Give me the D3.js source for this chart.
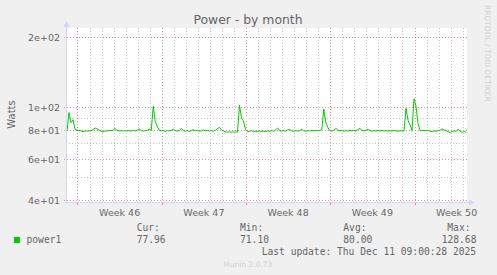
<!DOCTYPE html>
<html><head><meta charset="utf-8">
<script src="https://cdn.jsdelivr.net/npm/d3@7"></script>
<style>body{margin:0;background:#f0f0f0}svg{display:block}</style>
</head><body><svg id="c" width="497" height="275"></svg>
<script>
// ---- data ----
const title = "Power - by month";
const yLabel = "Watts";
const seriesName = "power1";
const startTime = Date.UTC(2025, 10, 9, 3, 4);
const endTime = Date.UTC(2025, 11, 12, 8, 41);
const stepHours = 4;
const values = [
 79,95,86,88.5,80.5,79.8,79.5,79.3,78.6,79.2,
 79.0,79.3,79.2,80.2,81.5,80.8,79.8,79.0,78.3,79.2,
 79.0,79.6,79.4,79.8,81.2,79.5,79.2,79.4,79.0,79.3,
 79.1,79.4,79.0,79.6,79.2,79.8,80.8,79.4,79.1,79.3,
 79.6,80.6,79.8,101,87,83,79.8,79.2,79.5,78.8,
 79.4,79.1,79.6,80.6,79.3,79.0,79.5,81.2,79.4,79.0,
 79.3,78.8,79.4,80.2,79.2,79.5,79.0,79.3,80.0,79.2,
 79.5,79.1,79.4,79.0,79.6,81.0,82.0,80.0,79.2,78.3,
 78.3,78.3,78.3,78.3,78.3,78.4,102,90,87.5,80,
 78.6,78.8,79.4,78.5,78.9,78.6,79.1,78.7,79.0,78.6,
 79.2,78.8,79.3,79.0,80.0,81.5,79.4,79.0,79.3,79.1,
 80.0,80.4,79.2,78.9,79.3,79.0,79.4,80.5,79.3,79.0,
 79.4,79.1,79.5,79.2,79.5,79.3,79.6,80,98.3,86.5,
 82,79.4,79.0,79.5,81.3,79.8,79.2,79.5,79.0,79.4,
 79.1,79.6,79.2,79.5,79.1,80.2,81.3,79.6,79.2,79.5,
 80.5,79.4,79.1,79.3,79.0,79.5,79.2,79.6,79.1,79.4,
 79.0,79.3,79.1,79.5,79.2,79.0,79.3,79.1,79.2,99,
 88,84,79.2,109,101,85,79.6,79.4,79.5,79.3,
 79.4,79.1,78.6,79.2,79.0,79.4,79.8,80.7,79.9,79.5,
 78.6,77.9,78.8,79.2,79.0,80.4,79.0,78.0,78.9,77.96
];
const yMajorTicks = [40, 60, 80, 100, 200];
const yMajorLabels = ["4e+01", "6e+01", "8e+01", "1e+02", "2e+02"];
const yMinorTicks = [50, 70, 90];
const statHeads = ["Cur:", "Min:", "Avg:", "Max:"];
const statValues = ["77.96", "71.10", "80.00", "128.68"];
const lastUpdate = "Last update: Thu Dec 11 09:00:28 2025";
const version = "Munin 2.0.73";
const watermark = "RRDTOOL / TOBI OETIKER";

// ---- layout ----
const X0 = 67, X1 = 467, Y0 = 202, Y1 = 28;
const svg = d3.select("#c");
const fontSans = "'DejaVu Sans', sans-serif";
const fontMono = "'DejaVu Sans Mono', monospace";
const fc = "#666666";

svg.append("rect").attr("width", 497).attr("height", 275).attr("fill", "#f0f0f0");
svg.append("rect").attr("x", X0).attr("y", Y1).attr("width", X1 - X0).attr("height", Y0 - Y1).attr("fill", "#ffffff");

const x = d3.scaleUtc().domain([new Date(startTime), new Date(endTime)]).range([X0, X1]);
const y = d3.scaleLog().domain([39.17, 219.3]).range([Y0, Y1]);

const data = values.map((v, i) => ({ t: new Date(startTime + i * stepHours * 3600e3), v }));

const minorCol = "#c6c6c6";
const majorCol = "#e09696";
const dash = "1,2";
const px = v => Math.round(v) + 0.5;

// vertical grid
const days = d3.utcDay.range(new Date(startTime), new Date(endTime));
const weeks = d3.utcMonday.range(new Date(startTime), new Date(endTime));
const g = svg.append("g");
days.forEach(d => {
  const xx = px(x(d));
  g.append("line").attr("x1", xx).attr("x2", xx).attr("y1", Y1).attr("y2", Y0 + 2)
    .attr("stroke", minorCol).attr("stroke-dasharray", dash);
});
weeks.forEach(d => {
  const xx = px(x(d));
  g.append("line").attr("x1", xx).attr("x2", xx).attr("y1", Y1).attr("y2", Y0)
    .attr("stroke", majorCol).attr("stroke-dasharray", dash);
  g.append("line").attr("x1", xx).attr("x2", xx).attr("y1", Y0).attr("y2", Y0 + 3)
    .attr("stroke", "#e08888");
});
// horizontal grid
yMinorTicks.forEach(v => {
  const yy = px(y(v));
  g.append("line").attr("x1", X0 - 1).attr("x2", X1 + 1).attr("y1", yy).attr("y2", yy)
    .attr("stroke", minorCol).attr("stroke-dasharray", dash);
});
yMajorTicks.forEach((v, i) => {
  const yy = px(y(v));
  g.append("line").attr("x1", X0 - 3).attr("x2", X1 + 2).attr("y1", yy).attr("y2", yy)
    .attr("stroke", majorCol).attr("stroke-dasharray", dash);
  svg.append("text").attr("x", 60).attr("y", yy + 3.3).attr("text-anchor", "end")
    .attr("font-family", fontSans).attr("font-size", "9.5px").attr("fill", fc).text(yMajorLabels[i]);
});

// week labels
weeks.forEach(d => {
  const mid = new Date(+d + 3.5 * 86400e3);
  svg.append("text").attr("x", x(mid)).attr("y", 216).attr("text-anchor", "middle")
    .attr("font-family", fontSans).attr("font-size", "9.5px").attr("fill", fc)
    .text("Week " + d3.utcFormat("%V")(d));
});

// series line
const line = d3.line().x(d => x(d.t)).y(d => y(d.v));
svg.append("path").datum(data).attr("d", line).attr("fill", "none")
  .attr("stroke", "#00cc00").attr("stroke-width", 1);

// axes
const axCol = "#cfd6f8";
svg.append("line").attr("x1", X0 - 0.5).attr("x2", X0 - 0.5).attr("y1", Y0 + 2).attr("y2", Y1 - 4).attr("stroke", axCol);
svg.append("line").attr("x1", X0 - 2).attr("x2", X1 + 4).attr("y1", Y0 + 0.5).attr("y2", Y0 + 0.5).attr("stroke", axCol);
svg.append("path").attr("d", `M${X0 - 3.5},${Y1 - 1} L${X0 - 0.5},${Y1 - 7} L${X0 + 2.5},${Y1 - 1} Z`).attr("fill", axCol);
svg.append("path").attr("d", `M${X1 + 2},${Y0 - 2.5} L${X1 + 8},${Y0 + 0.5} L${X1 + 2},${Y0 + 3.5} Z`).attr("fill", axCol);

// title
svg.append("text").attr("x", 248).attr("y", 24).attr("text-anchor", "middle")
  .attr("font-family", fontSans).attr("font-size", "12.4px").attr("fill", fc).text(title);
// y label
svg.append("text").attr("transform", "translate(15,114.5) rotate(-90)").attr("text-anchor", "middle")
  .attr("font-family", fontSans).attr("font-size", "10px").attr("fill", fc).text(yLabel);
// watermark
svg.append("text").attr("transform", "translate(485,5) rotate(90)")
  .attr("font-family", fontSans).attr("font-size", "7.5px").attr("fill", "#d0d0d0").text(watermark);

// legend
svg.append("rect").attr("x", 14).attr("y", 237).attr("width", 6).attr("height", 6).attr("fill", "#00cc00");
const mono = (tx, xx, yy) => svg.append("text").attr("x", xx).attr("y", yy)
  .attr("font-family", fontMono).attr("font-size", "9.65px").attr("fill", fc).text(tx);
mono(seriesName, 26.5, 243);
const headX = [136.7, 240, 343.3, 447.3];
const valX = [136.7, 240, 343.3, 441.7];
statHeads.forEach((h, i) => mono(h, headX[i], 231));
statValues.forEach((v, i) => mono(v, valX[i], 243));
mono(lastUpdate, 261.7, 254.5);
svg.append("text").attr("x", 223.3).attr("y", 267).attr("font-family", fontSans)
  .attr("font-size", "7.5px").attr("fill", "#d0d0d0").text(version);
</script></body></html>
